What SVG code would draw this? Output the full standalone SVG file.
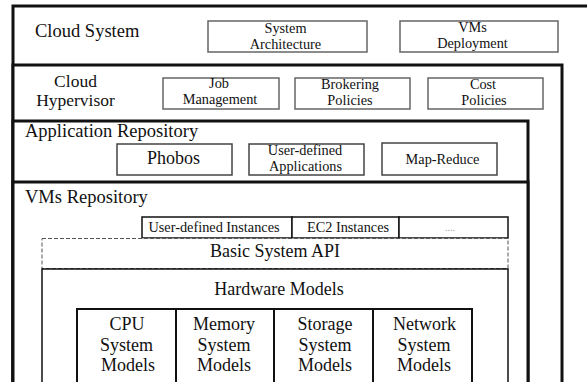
<svg xmlns="http://www.w3.org/2000/svg" width="587" height="382" viewBox="0 0 587 382">
<style>
.t{fill:#111;text-anchor:middle}
.l{text-anchor:start}
.h{font-size:18.5px}
.hv{font-size:17.5px}
.m{font-size:18px}
.s{font-size:14.3px}
.thick{fill:#fff;stroke:#111;stroke-width:3}
.sub{fill:#fff;stroke:#666;stroke-width:1.5}
.sub2{fill:#fff;stroke:#444;stroke-width:1.5}
.blk{fill:#fff;stroke:#111;stroke-width:1.5}
.mb{fill:#fff;stroke:#111;stroke-width:2}
.dash{fill:#fff;stroke:#555;stroke-width:1;stroke-dasharray:4 2}
</style>
<rect width="587" height="382" fill="#fff"/>
<g id="cloud-system">
<rect class="thick" x="13" y="6" width="620" height="420"/>
<text class="t h l" font-family="Liberation Serif" style="font-family:'Liberation Serif'" x="35" y="37">Cloud System</text>
</g>
<g id="system-architecture">
<rect class="sub" x="208" y="21" width="159" height="31"/>
<text class="t s" font-family="Liberation Serif" style="font-family:'Liberation Serif'" x="285.5" y="33">System</text>
<text class="t s" font-family="Liberation Serif" style="font-family:'Liberation Serif'" x="285.5" y="49">Architecture</text>
</g>
<g id="vms-deployment">
<rect class="sub" x="400" y="21" width="158" height="31"/>
<text class="t s" font-family="Liberation Serif" style="font-family:'Liberation Serif'" x="472.5" y="32">VMs</text>
<text class="t s" font-family="Liberation Serif" style="font-family:'Liberation Serif'" x="472.5" y="48">Deployment</text>
</g>
<g id="cloud-hypervisor">
<rect class="thick" x="13" y="65" width="549" height="360"/>
<text class="t hv" font-family="Liberation Serif" style="font-family:'Liberation Serif'" x="75.5" y="86.5">Cloud</text>
<text class="t hv" font-family="Liberation Serif" style="font-family:'Liberation Serif'" x="75.5" y="106">Hypervisor</text>
</g>
<g id="job-management">
<rect class="sub" x="163" y="78" width="116" height="31"/>
<text class="t s" font-family="Liberation Serif" style="font-family:'Liberation Serif'" x="219" y="88">Job</text>
<text class="t s" font-family="Liberation Serif" style="font-family:'Liberation Serif'" x="220" y="104">Management</text>
</g>
<g id="brokering-policies">
<rect class="sub" x="295" y="78" width="115" height="31"/>
<text class="t s" font-family="Liberation Serif" style="font-family:'Liberation Serif'" x="350" y="89">Brokering</text>
<text class="t s" font-family="Liberation Serif" style="font-family:'Liberation Serif'" x="350" y="105">Policies</text>
</g>
<g id="cost-policies">
<rect class="sub" x="428" y="78" width="115" height="31"/>
<text class="t s" font-family="Liberation Serif" style="font-family:'Liberation Serif'" x="483" y="89">Cost</text>
<text class="t s" font-family="Liberation Serif" style="font-family:'Liberation Serif'" x="484" y="105">Policies</text>
</g>
<g id="application-repository">
<rect class="thick" x="13" y="121" width="515" height="300"/>
<text class="t h l" font-family="Liberation Serif" style="font-family:'Liberation Serif'" x="25" y="137">Application Repository</text>
</g>
<g id="phobos">
<rect class="sub2" x="117" y="144" width="115" height="31"/>
<text class="t m" font-family="Liberation Serif" style="font-family:'Liberation Serif'" x="173.5" y="164">Phobos</text>
</g>
<g id="user-defined-applications">
<rect class="sub2" x="249" y="144" width="115" height="31"/>
<text class="t s" font-family="Liberation Serif" style="font-family:'Liberation Serif'" x="305" y="155">User-defined</text>
<text class="t s" font-family="Liberation Serif" style="font-family:'Liberation Serif'" x="305.5" y="171">Applications</text>
</g>
<g id="map-reduce">
<rect class="sub2" x="382" y="143" width="115" height="32"/>
<text class="t s" font-family="Liberation Serif" style="font-family:'Liberation Serif'" x="442.5" y="164">Map-Reduce</text>
</g>
<g id="vms-repository">
<rect class="thick" x="13" y="182" width="515" height="240"/>
<text class="t h l" font-family="Liberation Serif" style="font-family:'Liberation Serif'" x="25" y="203">VMs Repository</text>
</g>
<g id="user-defined-instances">
<rect class="blk" x="142" y="217" width="150" height="21"/>
<text class="t s" font-family="Liberation Serif" style="font-family:'Liberation Serif'" x="214" y="232">User-defined Instances</text>
</g>
<g id="ec2-instances">
<rect class="blk" x="292" y="217" width="107" height="21"/>
<text class="t s" font-family="Liberation Serif" style="font-family:'Liberation Serif'" x="348" y="232">EC2 Instances</text>
</g>
<g id="more-instances">
<rect class="blk" x="399" y="217" width="109" height="21"/>
<text class="t" font-family="Liberation Serif" style="font-family:'Liberation Serif';fill:#999;font-size:10px" x="450" y="231">....</text>
</g>
<g id="basic-system-api">
<rect class="dash" x="42" y="238.5" width="466" height="30"/>
<text class="t m" font-family="Liberation Serif" style="font-family:'Liberation Serif'" x="275" y="257">Basic System API</text>
</g>
<g id="hardware-models">
<rect class="blk" x="42" y="269" width="466" height="150"/>
<text class="t m" font-family="Liberation Serif" style="font-family:'Liberation Serif'" x="279" y="295">Hardware Models</text>
</g>
<g id="cpu-system-models">
<rect class="mb" x="77" y="309" width="99" height="100"/>
<text class="t m" font-family="Liberation Serif" style="font-family:'Liberation Serif'" x="127" y="330">CPU</text>
<text class="t m" font-family="Liberation Serif" style="font-family:'Liberation Serif'" x="126.5" y="351">System</text>
<text class="t m" font-family="Liberation Serif" style="font-family:'Liberation Serif'" x="128" y="371">Models</text>
</g>
<g id="memory-system-models">
<rect class="mb" x="176" y="309" width="98" height="100"/>
<text class="t m" font-family="Liberation Serif" style="font-family:'Liberation Serif'" x="224" y="330">Memory</text>
<text class="t m" font-family="Liberation Serif" style="font-family:'Liberation Serif'" x="224" y="351">System</text>
<text class="t m" font-family="Liberation Serif" style="font-family:'Liberation Serif'" x="224" y="371">Models</text>
</g>
<g id="storage-system-models">
<rect class="mb" x="274" y="309" width="99" height="100"/>
<text class="t m" font-family="Liberation Serif" style="font-family:'Liberation Serif'" x="325" y="330">Storage</text>
<text class="t m" font-family="Liberation Serif" style="font-family:'Liberation Serif'" x="325" y="351">System</text>
<text class="t m" font-family="Liberation Serif" style="font-family:'Liberation Serif'" x="325" y="371">Models</text>
</g>
<g id="network-system-models">
<rect class="mb" x="373" y="309" width="99" height="100"/>
<text class="t m" font-family="Liberation Serif" style="font-family:'Liberation Serif'" x="424.5" y="330">Network</text>
<text class="t m" font-family="Liberation Serif" style="font-family:'Liberation Serif'" x="424" y="351">System</text>
<text class="t m" font-family="Liberation Serif" style="font-family:'Liberation Serif'" x="424" y="371">Models</text>
</g>
<g id="connectors"></g>
</svg>
